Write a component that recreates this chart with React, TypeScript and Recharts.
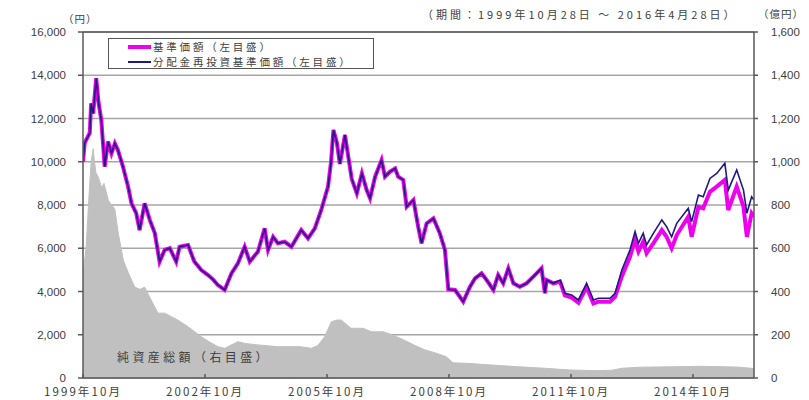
import { ComposedChart, Line, Area, XAxis, YAxis, CartesianGrid, Legend, ReferenceLine } from "recharts";

// months counted from 1999年10月 (0) to 2016年4月 (198)
const TICK_MONTHS = [0, 36, 72, 108, 144, 180];
const TICK_LABELS = ["1999年10月", "2002年10月", "2005年10月", "2008年10月", "2011年10月", "2014年10月"];
const LEFT_TICKS = [0, 2000, 4000, 6000, 8000, 10000, 12000, 14000, 16000];
const RIGHT_TICKS = [0, 200, 400, 600, 800, 1000, 1200, 1400, 1600];

const NAV_MONTHS = [
  0, 0.5, 2.0, 2.4, 3.0, 3.9, 4.6, 5.4, 6.4, 7.4, 8.4, 9.4, 10.3, 11.8, 13.3, 14.3, 15.7, 16.7, 18.2, 19.7,
  21.2, 22.6, 24.1, 25.6, 27.5, 28.5, 31.0, 32.8, 34.9, 36.9, 38.4, 39.8, 41.8, 43.8, 45.7, 47.7, 49.2, 51.6, 53.6, 54.6,
  56.1, 57.5, 59.5, 61.5, 64.4, 66.4, 68.4, 70.3, 72.3, 73.2, 73.9, 74.9, 75.8, 77.3, 79.3, 80.8, 82.3, 83.7, 84.7, 86.2,
  88.1, 89.1, 90.6, 92.1, 93.0, 94.5, 95.5, 97.5, 98.9, 99.9, 101.4, 103.4, 105.3, 106.8, 107.8, 109.8, 112.2, 114.2, 115.7, 117.6,
  119.1, 121.1, 122.5, 124.0, 125.5, 127.0, 128.9, 130.9, 132.9, 135.3, 136.3, 136.8, 138.8, 140.8, 142.2, 144.2, 146.2, 148.6, 150.6, 152.1,
  155.5, 157.0, 159.0, 161.4, 162.9, 163.9, 165.3, 166.3, 168.3, 170.8, 172.2, 173.7, 175.2, 178.6, 179.6, 181.6, 183.0, 185.0, 187.0, 189.4,
  190.4, 192.9, 194.9, 195.9, 197.3, 198,
];

// 分配金再投資基準価額
const NAV_REINVEST = [
  10000, 10870, 11330, 12700, 12230, 13860, 12720, 11930, 9770, 10930, 10390, 10850, 10540, 9770, 8850, 8080, 7620, 6840, 8080, 7310,
  6690, 5380, 5920, 6000, 5380, 6070, 6150, 5400, 4990, 4760, 4550, 4300, 4070, 4840, 5300, 6070, 5380, 5840, 6920, 5920,
  6530, 6230, 6300, 6070, 6840, 6460, 6920, 7770, 8850, 10000, 11470, 10900, 9900, 11240, 9200, 8540, 9460, 8690, 8310, 9310,
  10080, 9310, 9540, 9690, 9310, 9160, 7920, 8230, 7000, 6230, 7150, 7380, 6690, 5920, 4100, 4070, 3530, 4220, 4610, 4840,
  4530, 4070, 4760, 4380, 5070, 4380, 4220, 4380, 4690, 5070, 3920, 4530, 4380, 4530, 3920, 3840, 3610, 4380, 3610, 3690,
  3690, 3920, 4990, 5920, 6770, 6230, 6690, 6150, 6690, 7310, 7000, 6530, 7150, 7850, 7230, 8460, 8380, 9230, 9460, 9930,
  8690, 9620, 8690, 7620, 8380, 8230,
];

// 基準価額
const NAV_BASE = [
  10000, 10870, 11330, 12700, 12230, 13860, 12720, 11930, 9770, 10930, 10390, 10850, 10540, 9770, 8850, 8080, 7620, 6840, 8080, 7310,
  6690, 5380, 5920, 6000, 5380, 6070, 6150, 5400, 4990, 4760, 4550, 4300, 4070, 4840, 5300, 6070, 5380, 5840, 6920, 5920,
  6530, 6230, 6300, 6070, 6840, 6460, 6920, 7770, 8850, 10000, 11470, 10900, 9900, 11240, 9200, 8540, 9460, 8690, 8310, 9310,
  10080, 9310, 9540, 9690, 9310, 9160, 7920, 8230, 7000, 6230, 7150, 7380, 6690, 5920, 4100, 4070, 3530, 4220, 4610, 4840,
  4530, 4070, 4760, 4380, 5070, 4380, 4220, 4380, 4690, 5070, 3920, 4530, 4380, 4450, 3820, 3720, 3480, 4200, 3450, 3530,
  3530, 3750, 4700, 5600, 6400, 5850, 6300, 5770, 6230, 6840, 6530, 6000, 6610, 7460, 6530, 7920, 7850, 8610, 8850, 9160,
  7770, 8850, 7920, 6530, 7620, 7460,
];

// 純資産総額（億円）
const ASSET_MONTHS = [
  0, 0.9, 1.8, 2.4, 3.0, 3.4, 3.8, 4.5, 5.5, 6.2, 7.5, 8.5, 9.4, 10.4, 11.9, 13.4, 15.3, 16.8, 18.2, 19.8,
  22.1, 24.1, 28.0, 31.0, 34.9, 37.5, 39.8, 41.8, 45.7, 47.7, 51.6, 57.5, 64.0, 67.4, 69.3, 71.3, 73.3, 74.9, 76.2, 79.1,
  82.6, 85.1, 88.5, 91.2, 94.7, 98.0, 100.9, 104.2, 107.1, 109.2, 113.0, 120.7, 128.4, 136.3, 143.7, 151.4, 156.1, 159.0, 164.4, 174.4,
  182.1, 189.4, 193.8, 197.1, 198,
];
const ASSET_VALUES = [
  480, 600, 850, 1000, 1060, 1000, 950, 930, 880, 900, 820, 800, 780, 670, 545, 485, 420, 410, 420, 370,
  300, 300, 268, 237, 191, 165, 145, 137, 168, 160, 153, 145, 145, 137, 150, 191, 260, 268, 268, 230,
  230, 214, 214, 200, 176, 150, 130, 115, 99, 70, 68, 60, 52, 45, 37, 34, 36, 45, 50, 52,
  54, 52, 50, 45, 44,
];

const navRows = NAV_MONTHS.map((m, i) => ({ m, base: NAV_BASE[i], reinvest: NAV_REINVEST[i] }));
const assetRows = ASSET_MONTHS.map((m, i) => ({ m, assets: ASSET_VALUES[i] }));

const MAGENTA = "#ee00ee";
const NAVY = "#1e1a80";
const GRAY_AREA = "#c0c0c0";
const AXIS = "#595959";
const TEXT = "#404040";
const NUM_FONT = "'Liberation Sans', Arial, sans-serif";
const JP_FONT = "'Noto Sans CJK JP', sans-serif";

const LEGEND_ITEMS = [
  { label: "基準価額（左目盛）", color: MAGENTA, width: 4 },
  { label: "分配金再投資基準価額（左目盛）", color: NAVY, width: 1.5 },
];

function fmtNum(v: number) {
  return v.toLocaleString("en-US");
}

function fmtMonth(v: number) {
  const i = TICK_MONTHS.indexOf(v);
  return i >= 0 ? TICK_LABELS[i] : "";
}

function LegendBox() {
  return (
    <div style={{ width: 266, height: 31, border: "1px solid #555", background: "#fff", boxSizing: "border-box", padding: "1px 0 0 19px" }}>
      {LEGEND_ITEMS.map((it) => (
        <div key={it.label} style={{ display: "flex", alignItems: "center", height: 14.5 }}>
          <div style={{ width: 23, height: it.width, background: it.color, marginRight: 2 }} />
          <span style={{ fontFamily: JP_FONT, fontSize: 10.5, letterSpacing: 2.8, color: TEXT, lineHeight: "14px", whiteSpace: "nowrap" }}>{it.label}</span>
        </div>
      ))}
    </div>
  );
}

export default function App() {
  return (
    <div style={{ position: "absolute", left: 0, top: 0, width: 809, height: 400, background: "#fff" }}>
      <ComposedChart width={809} height={400} margin={{ top: 32, right: 0, bottom: 0, left: 0 }}>
        <CartesianGrid horizontal vertical={false} stroke="#a6a6a6" strokeWidth={1.5} yAxisId="left" />
        <XAxis
          type="number"
          dataKey="m"
          domain={[0, 198]}
          ticks={TICK_MONTHS}
          tickFormatter={fmtMonth}
          height={22}
          tickSize={-4}
          tickMargin={14}
          stroke={AXIS}
          strokeWidth={1.5}
          tick={{ fontSize: 11.5, fill: TEXT, fontFamily: JP_FONT, letterSpacing: 2.1 }}
          allowDataOverflow
        />
        <YAxis
          yAxisId="left"
          orientation="left"
          width={83}
          domain={[0, 16000]}
          ticks={LEFT_TICKS}
          tickFormatter={fmtNum}
          tickSize={5}
          tickMargin={12}
          stroke={AXIS}
          strokeWidth={1.5}
          tick={{ fontSize: 11.5, fill: TEXT, fontFamily: NUM_FONT }}
        />
        <YAxis
          yAxisId="right"
          orientation="right"
          width={55}
          domain={[0, 1600]}
          ticks={RIGHT_TICKS}
          tickFormatter={fmtNum}
          tickSize={4}
          tickMargin={13}
          stroke={AXIS}
          strokeWidth={1.5}
          tick={{ fontSize: 11.5, fill: TEXT, fontFamily: NUM_FONT, textAnchor: "start" }}
        />
        <Area
          yAxisId="right"
          data={assetRows}
          dataKey="assets"
          type="linear"
          stroke={GRAY_AREA}
          strokeWidth={1}
          fill={GRAY_AREA}
          fillOpacity={1}
          isAnimationActive={false}
        />
        <ReferenceLine yAxisId="left" y={16000} stroke={AXIS} strokeWidth={1.5} />
        <Line
          yAxisId="left"
          data={navRows}
          dataKey="base"
          type="linear"
          stroke={MAGENTA}
          strokeWidth={4}
          dot={false}
          isAnimationActive={false}
        />
        <Line
          yAxisId="left"
          data={navRows}
          dataKey="reinvest"
          type="linear"
          stroke={NAVY}
          strokeWidth={1.6}
          dot={false}
          isAnimationActive={false}
        />
        <Legend
          layout="vertical"
          align="center"
          verticalAlign="middle"
          content={() => <LegendBox />}
          wrapperStyle={{ left: 108, top: 38, width: 266, height: 31 }}
        />
      </ComposedChart>

      <span style={{ position: "absolute", left: 63, top: 11, fontFamily: JP_FONT, fontSize: 10.5, color: TEXT, letterSpacing: 1 }}>（円）</span>
      <span style={{ position: "absolute", left: 758, top: 6, fontFamily: JP_FONT, fontSize: 10.5, color: TEXT, letterSpacing: 1 }}>（億円）</span>
      <span style={{ position: "absolute", left: 422, top: 6, fontFamily: JP_FONT, fontSize: 11, color: TEXT, letterSpacing: 3.0, whiteSpace: "nowrap" }}>
        （期間：1999年10月28日 ～ 2016年4月28日）
      </span>
      <span style={{ position: "absolute", left: 117, top: 348, fontFamily: JP_FONT, fontSize: 12, color: TEXT, letterSpacing: 3.4, whiteSpace: "nowrap" }}>
        純資産総額（右目盛）
      </span>
    </div>
  );
}
